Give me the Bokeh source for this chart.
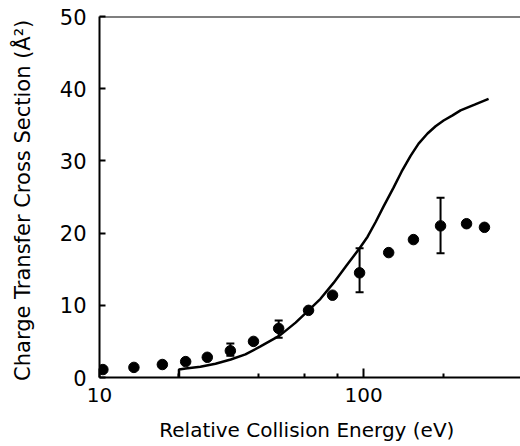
from bokeh.plotting import figure
from bokeh.models import FixedTicker, Whisker, ColumnDataSource, Span, TeeHead
from bokeh.embed import file_html
from bokeh.resources import INLINE

energy = [10.3, 13.5, 17.3, 21.2, 25.6, 31.3, 38.3, 47.7, 61.9, 76.3, 96.6, 124.5, 154.5, 195.7, 245.5, 287]
cross = [1.1, 1.4, 1.8, 2.2, 2.8, 3.7, 5.0, 6.8, 9.3, 11.4, 14.5, 17.3, 19.1, 21.0, 21.3, 20.8]

# Error bars
err_energy = [31.3, 47.7, 96.6, 195.7]
err_lower = [3.0, 5.5, 11.8, 17.2]
err_upper = [4.7, 7.9, 17.9, 24.9]

# Theory curve
theory_energy = [20, 20, 21.2, 24.1, 27.5, 31.4, 35.7, 40.7, 48.1, 55.3, 61.9, 68.7, 77.0, 86.2,
                 96.6, 103.6, 111.0, 119.1, 129.9, 139.3, 150.7, 161.6, 174.7, 187.4, 201,
                 217.3, 233, 263.4, 297.5]
theory_cross = [0, 1.1, 1.25, 1.5, 1.9, 2.5, 3.2, 4.3, 5.8, 7.6, 9.3, 10.9, 13.1, 15.5,
                17.9, 19.5, 21.5, 23.7, 26.3, 28.5, 30.7, 32.4, 33.8, 34.8, 35.6,
                36.3, 37.0, 37.8, 38.6]

x_major = [10, 100]
x_minor = [20, 40, 60, 80, 200]
y_ticks = [0, 10, 20, 30, 40, 50]

FONT = "DejaVu Sans"

p = figure(width=520, height=446, x_axis_type="log", x_range=(10, 393), y_range=(0, 50),
           output_backend="svg", toolbar_location=None,
           min_border_left=99, min_border_top=16, min_border_right=0, min_border_bottom=69)
p.outline_line_color = None
p.xgrid.visible = False
p.ygrid.visible = False
p.background_fill_color = "white"
p.border_fill_color = "white"

# top frame line
p.add_layout(Span(location=50, dimension="width", line_color="black", line_width=2))

p.line(theory_energy, theory_cross, line_color="black", line_width=2.5)
p.scatter(energy, cross, size=10.5, fill_color="black", line_color="black")

src = ColumnDataSource(dict(x=err_energy, lower=err_lower, upper=err_upper))
w = Whisker(source=src, base="x", lower="lower", upper="upper", line_color="black", line_width=2,
            upper_head=TeeHead(size=8, line_width=2, line_color="black"),
            lower_head=TeeHead(size=8, line_width=2, line_color="black"))
p.add_layout(w)

xa = p.xaxis[0]
xa.ticker = FixedTicker(ticks=x_major, minor_ticks=x_minor)
xa.major_label_overrides = {10: "10", 100: "100"}
xa.major_tick_in = 9
xa.major_tick_out = 0
xa.minor_tick_in = 4
xa.minor_tick_out = 0
xa.axis_line_width = 2
xa.major_tick_line_width = 2
xa.minor_tick_line_width = 2
xa.major_label_standoff = 10
xa.major_label_text_font = FONT
xa.major_label_text_font_size = "20px"
xa.major_label_text_color = "black"
xa.axis_label = "Relative Collision Energy  (eV)"
xa.axis_label_text_font = FONT
xa.axis_label_text_font_style = "normal"
xa.axis_label_text_font_size = "20px"
xa.axis_label_text_color = "black"
xa.axis_label_standoff = 13

ya = p.yaxis[0]
ya.ticker = FixedTicker(ticks=y_ticks)
ya.major_tick_in = 6
ya.major_tick_out = 0
ya.minor_tick_line_color = None
ya.axis_line_width = 2
ya.major_tick_line_width = 2
ya.major_label_standoff = 13
ya.major_label_text_font = FONT
ya.major_label_text_font_size = "21px"
ya.major_label_text_color = "black"
ya.axis_label = "Charge Transfer Cross Section  (Å²)"
ya.axis_label_text_font = FONT
ya.axis_label_text_font_style = "normal"
ya.axis_label_text_font_size = "21px"
ya.axis_label_text_color = "black"
ya.axis_label_standoff = 22

open("out.html", "w").write(file_html(p, INLINE))
